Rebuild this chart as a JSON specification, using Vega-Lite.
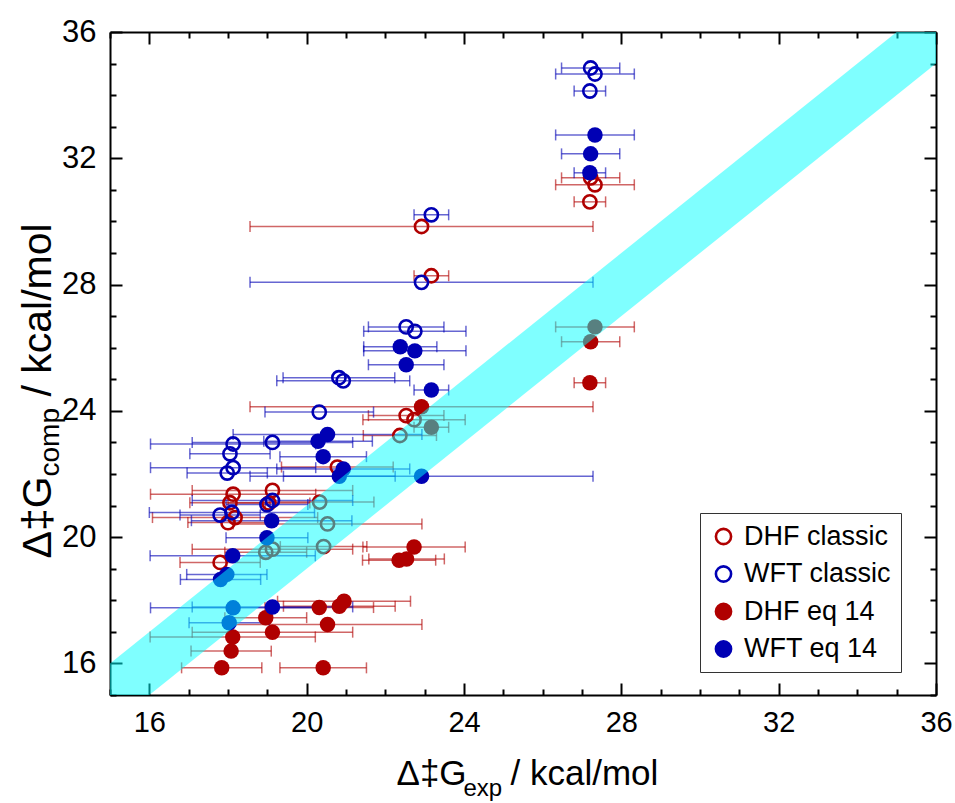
{
  "$schema": "https://vega.github.io/schema/vega-lite/v6.json",
  "autosize": {"type": "none"},
  "padding": {"left": 110, "top": 32, "right": 19, "bottom": 108},
  "width": 826,
  "height": 663,
  "background": "white",
  "config": {
    "view": {"stroke": null},
    "legend": {
      "labelFont": "Liberation Sans", "labelFontSize": 27, "labelColor": "black",
      "labelOffset": 7,
      "symbolSize": 230, "symbolStrokeWidth": 2.6, "symbolType": "circle",
      "rowPadding": 9.5, "padding": 10,
      "strokeColor": "#333333", "fillColor": "white", "cornerRadius": 0
    },
    "axis": {"grid": false, "tickColor": "black", "tickWidth": 2, "domainColor": "black", "domainWidth": 2, "labelFlush": false, "labelOverlap": false}
  },
  "datasets": {
    "pts": [
      {"series": "DHF classic", "x": 27.33, "y": 31.16, "err": 1.0},
      {"series": "DHF classic", "x": 27.22, "y": 31.38, "err": 0.74},
      {"series": "DHF classic", "x": 27.2, "y": 30.62, "err": 0.4},
      {"series": "DHF classic", "x": 23.17, "y": 28.28, "err": 0.44},
      {"series": "DHF classic", "x": 22.92, "y": 29.84, "err": 4.36},
      {"series": "DHF classic", "x": 22.53, "y": 23.85, "err": 0.96},
      {"series": "DHF classic", "x": 22.73, "y": 23.72, "err": 1.3},
      {"series": "DHF classic", "x": 22.37, "y": 23.22, "err": 0.93},
      {"series": "DHF classic", "x": 20.78, "y": 22.22, "err": 1.42},
      {"series": "DHF classic", "x": 20.33, "y": 21.11, "err": 1.38},
      {"series": "DHF classic", "x": 20.53, "y": 20.42, "err": 2.4},
      {"series": "DHF classic", "x": 20.43, "y": 19.7, "err": 1.1},
      {"series": "DHF classic", "x": 18.13, "y": 21.36, "err": 2.1},
      {"series": "DHF classic", "x": 18.05, "y": 21.09, "err": 1.02},
      {"series": "DHF classic", "x": 18.0, "y": 20.46, "err": 1.02},
      {"series": "DHF classic", "x": 18.18, "y": 20.62, "err": 2.1},
      {"series": "DHF classic", "x": 19.13, "y": 21.48, "err": 2.04},
      {"series": "DHF classic", "x": 19.04, "y": 21.08, "err": 1.04},
      {"series": "DHF classic", "x": 18.96, "y": 19.52, "err": 1.04},
      {"series": "DHF classic", "x": 19.13, "y": 19.62, "err": 2.04},
      {"series": "DHF classic", "x": 17.8, "y": 19.2, "err": 1.02},
      {"series": "WFT classic", "x": 27.22, "y": 34.86, "err": 0.74},
      {"series": "WFT classic", "x": 27.33, "y": 34.67, "err": 1.0},
      {"series": "WFT classic", "x": 27.2, "y": 34.13, "err": 0.4},
      {"series": "WFT classic", "x": 23.17, "y": 30.21, "err": 0.44},
      {"series": "WFT classic", "x": 22.92, "y": 28.07, "err": 4.36},
      {"series": "WFT classic", "x": 22.53, "y": 26.66, "err": 0.96},
      {"series": "WFT classic", "x": 22.75, "y": 26.52, "err": 1.3},
      {"series": "WFT classic", "x": 20.82, "y": 25.05, "err": 1.42},
      {"series": "WFT classic", "x": 20.93, "y": 24.95, "err": 1.69},
      {"series": "WFT classic", "x": 20.32, "y": 23.96, "err": 1.38},
      {"series": "WFT classic", "x": 19.13, "y": 23.0, "err": 2.04},
      {"series": "WFT classic", "x": 18.13, "y": 22.95, "err": 2.1},
      {"series": "WFT classic", "x": 18.05, "y": 22.64, "err": 1.02},
      {"series": "WFT classic", "x": 18.13, "y": 22.2, "err": 2.1},
      {"series": "WFT classic", "x": 17.98, "y": 22.03, "err": 1.02},
      {"series": "WFT classic", "x": 17.8, "y": 20.7, "err": 1.02},
      {"series": "WFT classic", "x": 18.1, "y": 20.78, "err": 2.1},
      {"series": "WFT classic", "x": 18.99, "y": 21.03, "err": 1.04},
      {"series": "WFT classic", "x": 19.13, "y": 21.16, "err": 2.04},
      {"series": "DHF eq 14", "x": 27.33, "y": 26.66, "err": 1.0},
      {"series": "DHF eq 14", "x": 27.22, "y": 26.19, "err": 0.74},
      {"series": "DHF eq 14", "x": 27.2, "y": 24.89, "err": 0.4},
      {"series": "DHF eq 14", "x": 23.17, "y": 23.48, "err": 0.44},
      {"series": "DHF eq 14", "x": 22.92, "y": 24.13, "err": 4.36},
      {"series": "DHF eq 14", "x": 22.73, "y": 19.69, "err": 1.3},
      {"series": "DHF eq 14", "x": 22.54, "y": 19.31, "err": 0.96},
      {"series": "DHF eq 14", "x": 22.35, "y": 19.27, "err": 0.93},
      {"series": "DHF eq 14", "x": 20.32, "y": 17.77, "err": 1.38},
      {"series": "DHF eq 14", "x": 20.83, "y": 17.81, "err": 1.42},
      {"series": "DHF eq 14", "x": 20.95, "y": 17.97, "err": 1.69},
      {"series": "DHF eq 14", "x": 20.53, "y": 17.23, "err": 2.4},
      {"series": "DHF eq 14", "x": 20.42, "y": 15.86, "err": 1.1},
      {"series": "DHF eq 14", "x": 18.96, "y": 17.45, "err": 1.04},
      {"series": "DHF eq 14", "x": 19.13, "y": 16.99, "err": 2.04},
      {"series": "DHF eq 14", "x": 18.12, "y": 16.84, "err": 2.1},
      {"series": "DHF eq 14", "x": 18.08, "y": 16.39, "err": 1.02},
      {"series": "DHF eq 14", "x": 17.84, "y": 15.86, "err": 1.02},
      {"series": "WFT eq 14", "x": 27.33, "y": 32.74, "err": 1.0},
      {"series": "WFT eq 14", "x": 27.22, "y": 32.14, "err": 0.74},
      {"series": "WFT eq 14", "x": 27.2, "y": 31.54, "err": 0.4},
      {"series": "WFT eq 14", "x": 23.17, "y": 24.66, "err": 0.44},
      {"series": "WFT eq 14", "x": 22.92, "y": 21.93, "err": 4.36},
      {"series": "WFT eq 14", "x": 22.53, "y": 25.46, "err": 0.96},
      {"series": "WFT eq 14", "x": 22.75, "y": 25.9, "err": 1.3},
      {"series": "WFT eq 14", "x": 22.38, "y": 26.03, "err": 0.93},
      {"series": "WFT eq 14", "x": 20.53, "y": 23.25, "err": 2.4},
      {"series": "WFT eq 14", "x": 20.29, "y": 23.04, "err": 1.38},
      {"series": "WFT eq 14", "x": 20.42, "y": 22.55, "err": 1.1},
      {"series": "WFT eq 14", "x": 20.93, "y": 22.16, "err": 1.69},
      {"series": "WFT eq 14", "x": 20.83, "y": 21.93, "err": 1.42},
      {"series": "WFT eq 14", "x": 19.11, "y": 20.52, "err": 2.04},
      {"series": "WFT eq 14", "x": 18.99, "y": 19.98, "err": 1.04},
      {"series": "WFT eq 14", "x": 18.12, "y": 19.41, "err": 2.1},
      {"series": "WFT eq 14", "x": 17.97, "y": 18.82, "err": 1.02},
      {"series": "WFT eq 14", "x": 17.81, "y": 18.66, "err": 1.02},
      {"series": "WFT eq 14", "x": 18.13, "y": 17.76, "err": 2.1},
      {"series": "WFT eq 14", "x": 18.03, "y": 17.29, "err": 1.02},
      {"series": "WFT eq 14", "x": 19.13, "y": 17.79, "err": 2.04}
    ],
    "band": [
      {"bx": 15, "lo": 14, "hi": 16},
      {"bx": 36, "lo": 35, "hi": 37}
    ]
  },
  "resolve": {"axis": {"x": "independent", "y": "independent"}},
  "layer": [
    {
      "data": {"name": "pts"},
      "transform": [{"filter": "datum.series === 'DHF classic' || datum.series === 'DHF eq 14'"}],
      "mark": {"type": "errorbar", "ticks": true, "size": 11, "thickness": 1.5, "opacity": 0.6, "color": "#B00000"},
      "encoding": {
        "x": {
          "field": "x", "type": "quantitative",
          "scale": {"domain": [15, 36], "nice": false, "zero": false},
          "axis": {
            "orient": "bottom",
            "values": [16, 20, 24, 28, 32, 36],
            "tickSize": -12,
            "labelFont": "Liberation Sans", "labelFontSize": 29, "labelColor": "black",
            "labelPadding": 25,
            "title": "Δ‡G",
            "titleFont": "Liberation Sans", "titleFontSize": 35, "titleFontWeight": "normal", "titleColor": "black",
            "titleX": 286, "titleY": 89, "titleAlign": "left", "titleBaseline": "alphabetic"
          }
        },
        "xError": {"field": "err"},
        "y": {
          "field": "y", "type": "quantitative",
          "scale": {"domain": [15, 36], "nice": false, "zero": false},
          "axis": {
            "orient": "left",
            "values": [16, 20, 24, 28, 32, 36],
            "tickSize": -12,
            "labelFont": "Liberation Sans", "labelFontSize": 31, "labelColor": "black",
            "labelPadding": 26,
            "title": "Δ‡G",
            "titleFont": "Liberation Sans", "titleFontSize": 41, "titleFontWeight": "normal", "titleColor": "black",
            "titleAngle": 270, "titleX": -60, "titleY": 526, "titleAlign": "left", "titleBaseline": "alphabetic"
          }
        }
      }
    },
    {
      "data": {"name": "pts"},
      "transform": [{"filter": "datum.series === 'WFT classic' || datum.series === 'WFT eq 14'"}],
      "mark": {"type": "errorbar", "ticks": true, "size": 11, "thickness": 1.5, "opacity": 0.6, "color": "#0000B4"},
      "encoding": {
        "x": {"field": "x", "type": "quantitative", "scale": {"domain": [15, 36], "nice": false, "zero": false}, "axis": null},
        "xError": {"field": "err"},
        "y": {"field": "y", "type": "quantitative", "scale": {"domain": [15, 36], "nice": false, "zero": false}, "axis": null}
      }
    },
    {
      "data": {"name": "pts"},
      "transform": [{"filter": "datum.series === 'DHF classic' || datum.series === 'WFT classic'"}],
      "mark": {"type": "point", "shape": "circle", "size": 175, "strokeWidth": 2.6, "opacity": 1},
      "encoding": {
        "x": {
          "field": "x", "type": "quantitative",
          "scale": {"domain": [15, 36], "nice": false, "zero": false},
          "axis": {"orient": "top", "values": [16, 20, 24, 28, 32, 36], "labels": false, "tickSize": -12, "title": null}
        },
        "y": {
          "field": "y", "type": "quantitative",
          "scale": {"domain": [15, 36], "nice": false, "zero": false},
          "axis": {"orient": "right", "values": [16, 20, 24, 28, 32, 36], "labels": false, "tickSize": -12, "title": null}
        },
        "stroke": {
          "field": "series", "type": "nominal", "title": null,
          "scale": {"domain": ["DHF classic", "WFT classic", "DHF eq 14", "WFT eq 14"], "range": ["#B00000", "#0000B4", "#B00000", "#0000B4"]},
          "legend": {"orient": "none", "legendX": 590, "legendY": 481, "title": null}
        },
        "fill": {
          "field": "series", "type": "nominal", "title": null,
          "scale": {"domain": ["DHF classic", "WFT classic", "DHF eq 14", "WFT eq 14"], "range": ["transparent", "transparent", "#B00000", "#0000B4"]},
          "legend": {"orient": "none", "legendX": 590, "legendY": 481, "title": null}
        }
      }
    },
    {
      "data": {"name": "pts"},
      "transform": [{"filter": "datum.series === 'DHF eq 14' || datum.series === 'WFT eq 14'"}],
      "mark": {"type": "point", "shape": "circle", "size": 240, "strokeWidth": 0, "opacity": 1},
      "encoding": {
        "x": {
          "field": "x", "type": "quantitative",
          "scale": {"domain": [15, 36], "nice": false, "zero": false},
          "axis": {"orient": "bottom", "values": [15, 17, 18, 19, 21, 22, 23, 25, 26, 27, 29, 30, 31, 33, 34, 35], "labels": false, "domain": false, "tickSize": -6, "title": null}
        },
        "y": {
          "field": "y", "type": "quantitative",
          "scale": {"domain": [15, 36], "nice": false, "zero": false},
          "axis": {"orient": "left", "values": [15, 17, 18, 19, 21, 22, 23, 25, 26, 27, 29, 30, 31, 33, 34, 35], "labels": false, "domain": false, "tickSize": -6, "title": null}
        },
        "stroke": {"field": "series", "type": "nominal", "title": null, "legend": {"orient": "none", "legendX": 590, "legendY": 481, "title": null}},
        "fill": {"field": "series", "type": "nominal", "title": null, "legend": {"orient": "none", "legendX": 590, "legendY": 481, "title": null}}
      }
    },
    {
      "data": {"name": "pts"},
      "mark": {"type": "point", "opacity": 0},
      "encoding": {
        "x": {
          "field": "x", "type": "quantitative",
          "scale": {"domain": [15, 36], "nice": false, "zero": false},
          "axis": {"orient": "top", "values": [15, 17, 18, 19, 21, 22, 23, 25, 26, 27, 29, 30, 31, 33, 34, 35], "labels": false, "domain": false, "tickSize": -6, "title": null}
        },
        "y": {
          "field": "y", "type": "quantitative",
          "scale": {"domain": [15, 36], "nice": false, "zero": false},
          "axis": {"orient": "right", "values": [15, 17, 18, 19, 21, 22, 23, 25, 26, 27, 29, 30, 31, 33, 34, 35], "labels": false, "domain": false, "tickSize": -6, "title": null}
        }
      }
    },
    {
      "data": {"name": "band"},
      "mark": {"type": "point", "opacity": 0},
      "encoding": {
        "x": {
          "field": "bx", "type": "quantitative",
          "scale": {"domain": [15, 36], "nice": false, "zero": false},
          "axis": {
            "orient": "bottom", "domain": false, "ticks": false, "labels": false,
            "title": "/ kcal/mol",
            "titleFont": "Liberation Sans", "titleFontSize": 35, "titleFontWeight": "normal", "titleColor": "black",
            "titleX": 400, "titleY": 89, "titleAlign": "left", "titleBaseline": "alphabetic"
          }
        },
        "y": {
          "field": "lo", "type": "quantitative",
          "scale": {"domain": [15, 36], "nice": false, "zero": false},
          "axis": {
            "orient": "left", "domain": false, "ticks": false, "labels": false,
            "title": "/ kcal/mol",
            "titleFont": "Liberation Sans", "titleFontSize": 41, "titleFontWeight": "normal", "titleColor": "black",
            "titleAngle": 270, "titleX": -60, "titleY": 364, "titleAlign": "left", "titleBaseline": "alphabetic"
          }
        }
      }
    },
    {
      "data": {"name": "band"},
      "mark": {"type": "area", "color": "#00FFFF", "opacity": 0.5, "clip": true},
      "encoding": {
        "x": {
          "field": "bx", "type": "quantitative",
          "scale": {"domain": [15, 36], "nice": false, "zero": false},
          "axis": {
            "orient": "bottom", "domain": false, "ticks": false, "labels": false,
            "title": "exp",
            "titleFont": "Liberation Sans", "titleFontSize": 24, "titleFontWeight": "normal", "titleColor": "black",
            "titleX": 353, "titleY": 100, "titleAlign": "left", "titleBaseline": "alphabetic"
          }
        },
        "y": {
          "field": "hi", "type": "quantitative",
          "scale": {"domain": [15, 36], "nice": false, "zero": false},
          "axis": {
            "orient": "left", "domain": false, "ticks": false, "labels": false,
            "title": "comp",
            "titleFont": "Liberation Sans", "titleFontSize": 28, "titleFontWeight": "normal", "titleColor": "black",
            "titleAngle": 270, "titleX": -52, "titleY": 444, "titleAlign": "left", "titleBaseline": "alphabetic"
          }
        },
        "y2": {"field": "lo"}
      }
    }
  ]
}
